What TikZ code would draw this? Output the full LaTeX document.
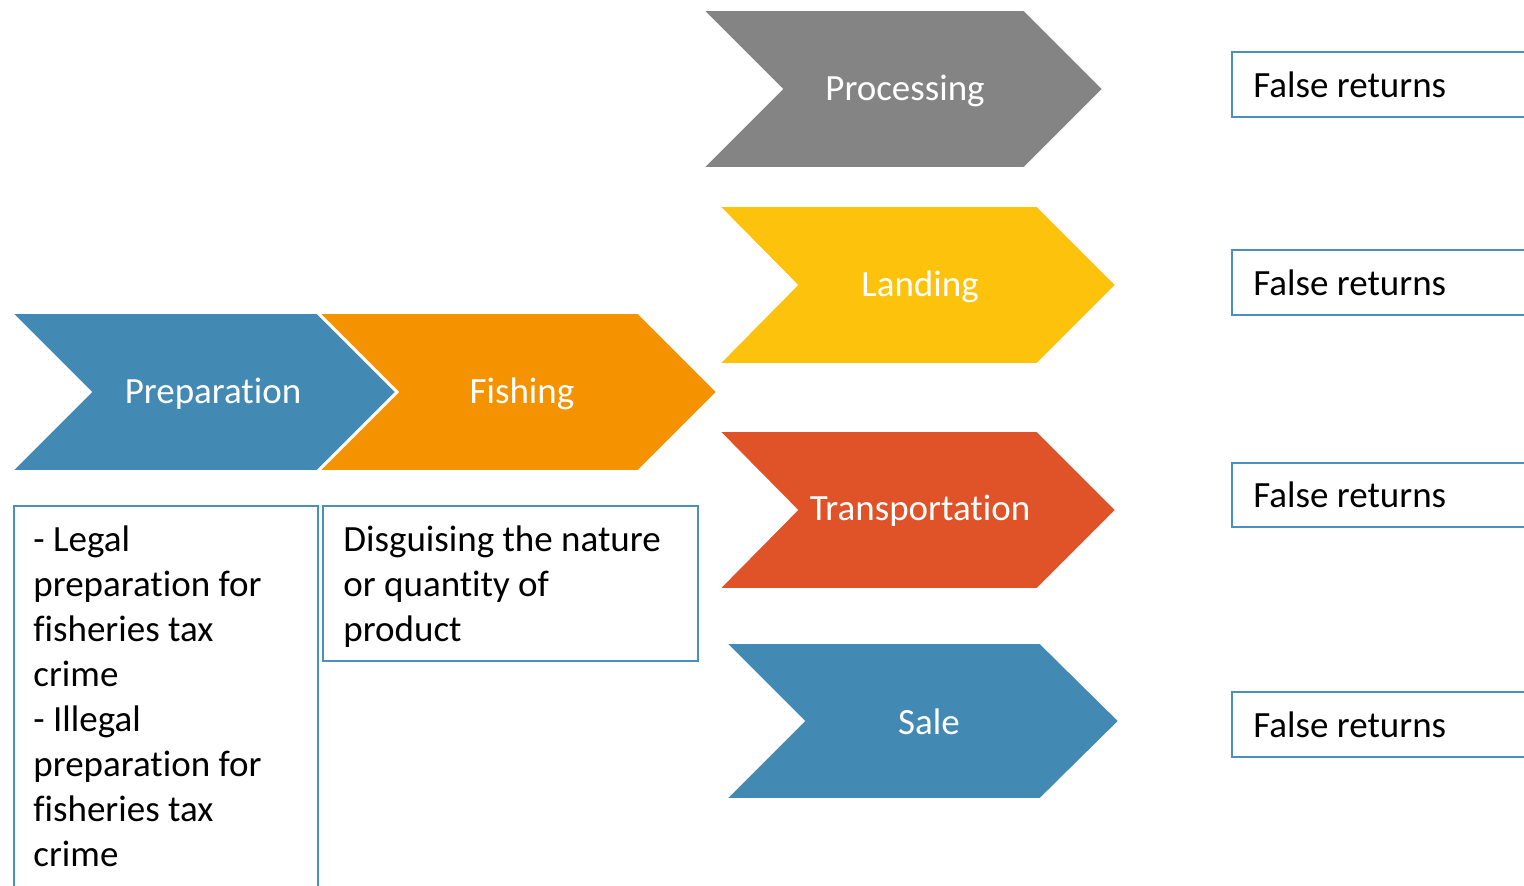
\documentclass[tikz,border=0pt]{standalone}
\usepackage{fontspec}
\setmainfont{Carlito}[Ligatures=NoCommon]
\usepackage{tikz}
\usepackage{xcolor}

\definecolor{prepblue}{HTML}{4289B4}
\definecolor{fishorange}{HTML}{F49200}
\definecolor{procgray}{HTML}{848484}
\definecolor{landyellow}{HTML}{FDC20C}
\definecolor{transred}{HTML}{E05227}
\definecolor{boxblue}{HTML}{4A8FC0}

\begin{document}
\begin{tikzpicture}[x=0.5pt,y=-0.5pt,
    chev/.style={draw=white,line width=0.8pt},
    chevtext/.style={text=white,anchor=base,inner sep=0pt,font=\fontsize{18.5}{22}\selectfont},
    box/.style={draw=boxblue,line width=0.8pt},
    boxtext/.style={anchor=north west,inner sep=0pt,align=left,font=\fontsize{18.5}{22.5}\selectfont}]
\clip (0,0) rectangle (1524,886);
\fill[white] (0,0) rectangle (1524,886);
% chevrons
\filldraw[chev,fill=prepblue] (12,313) -- (317,313) -- (396,392) -- (317,471) -- (12,471) -- (91,392) -- cycle;
\filldraw[chev,fill=fishorange] (319,313) -- (638,313) -- (717,392) -- (638,471) -- (319,471) -- (398,392) -- cycle;
\filldraw[chev,fill=procgray] (703,10) -- (1024,10) -- (1103,89) -- (1024,168) -- (703,168) -- (782,89) -- cycle;
\filldraw[chev,fill=landyellow] (719,206) -- (1037,206) -- (1116,285) -- (1037,364) -- (719,364) -- (797,285) -- cycle;
\filldraw[chev,fill=transred] (719,431) -- (1037,431) -- (1116,510) -- (1037,589) -- (719,589) -- (797,510) -- cycle;
\filldraw[chev,fill=prepblue] (726,643) -- (1040,643) -- (1119,721) -- (1040,799) -- (726,799) -- (804,721) -- cycle;
\node[chevtext] (prep) at (213,404) {Preparation};
\node[chevtext] (fish) at (522,404) {Fishing};
\node[chevtext] (proc) at (905,101) {Processing};
\node[chevtext] (land) at (920,297) {Landing};
\node[chevtext] (trans) at (920,521) {Transportation};
\node[chevtext] (sale) at (929,734) {Sale};
% boxes below
\draw[box] (14,506) rectangle (318,900);
\draw[box] (323,506) rectangle (698,661);
\node[boxtext] (legal) at (33,525) {- Legal\\preparation for\\fisheries tax\\crime\\- Illegal\\preparation for\\fisheries tax\\crime};
\node[boxtext] (disguise) at (343,525) {Disguising the nature\\or quantity of\\product};
% false returns
\draw[box] (1232,52) rectangle (1540,117);
\draw[box] (1232,250) rectangle (1540,315);
\draw[box] (1232,463) rectangle (1540,527);
\draw[box] (1232,692) rectangle (1540,757);
\node[boxtext,anchor=base west] (ret1) at (1253,98) {False returns};
\node[boxtext,anchor=base west] (ret2) at (1253,296) {False returns};
\node[boxtext,anchor=base west] (ret3) at (1253,508) {False returns};
\node[boxtext,anchor=base west] (ret4) at (1253,737) {False returns};
\end{tikzpicture}
\end{document}
